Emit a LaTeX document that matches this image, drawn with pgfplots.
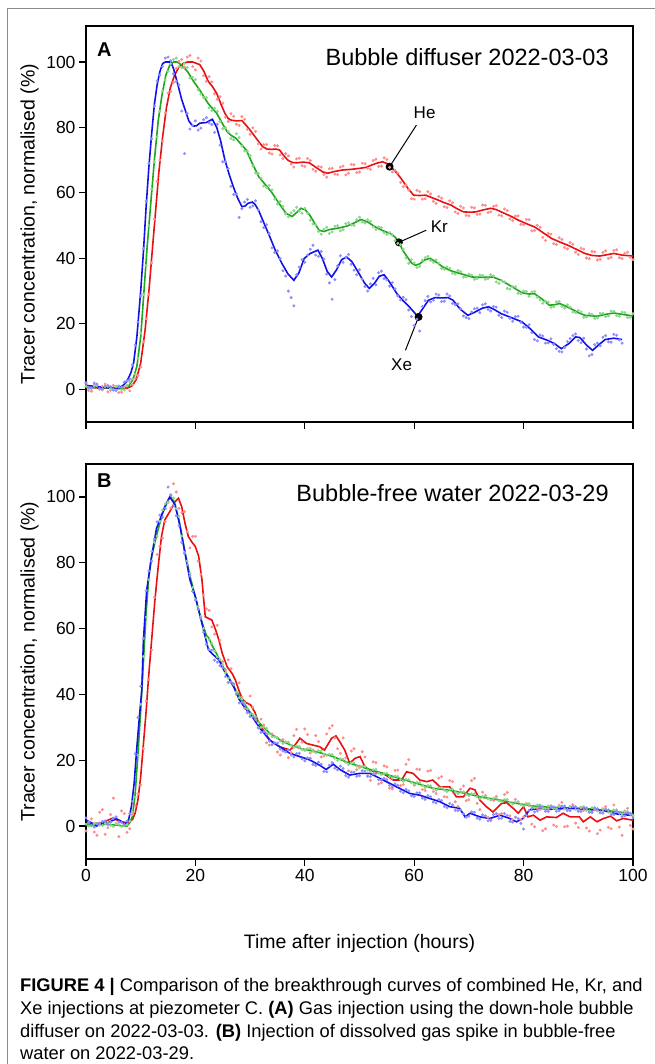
\documentclass[border=0pt]{standalone}
\usepackage{fontspec}
\setmainfont{Liberation Sans}
\usepackage{pgfplots}
\usepackage{pgfplotstable}
\pgfplotsset{compat=1.18}

\definecolor{cHe}{RGB}{232,16,16}
\definecolor{cKr}{RGB}{28,168,28}
\definecolor{cXe}{RGB}{18,18,232}
\definecolor{dHe}{RGB}{255,140,140}
\definecolor{dKr}{RGB}{140,214,140}
\definecolor{dXe}{RGB}{140,140,255}

% ---------- panel A: smoothed curves ----------
\pgfplotstableread{
x y
0 0.5
2 0.4
4 0.4
6 0.2
7.5 0.3
8.4 1
9.2 3
10 8
10.8 18
11.5 30
12.1 42
12.7 54
13.3 66
14 77
14.7 86
15.4 92
16.2 96
17 98.5
17.8 99.6
18.6 100
19.5 100
20.8 99.2
21.6 97
22.3 94.2
23.1 92.5
23.9 90.4
24.7 87
25.4 84.3
26 82.7
26.6 82.2
27.5 82
28.5 82.1
29.2 80.8
30 79.2
31.2 76.5
32.3 74.1
33.1 73.4
33.9 73.3
34.7 73.4
35.4 73.1
36.1 71.5
36.9 70
37.7 69.3
38.5 69.2
39.7 69.4
40.8 69.2
41.6 68.3
42.3 67.5
43.3 66.4
44.2 66
45.3 66.5
46.9 67
48.5 67.2
50 67.5
51.2 67.8
52.2 68.5
53.2 69.1
54.2 69.5
55.0 69
55.7 68
56.7 66.3
57.6 64.4
58.8 61.5
59.9 59.3
61 59.2
62.1 59.3
63.3 58.5
64.4 57.8
65.5 57
66.7 56.3
67.8 55.2
69 54.2
70.2 54.1
71.3 54.2
72.6 54.8
74 55.3
75 54.9
75.9 54.2
77.5 53
79 51.7
80.5 50.6
82 49.6
83.6 47.8
85.1 46.1
86.6 45
88.1 44
89.6 42.8
91.2 41.5
92.5 40.9
93.9 40.7
95.2 41.1
96.5 41.5
98 41
100 40.7
}\lineAhe

\pgfplotstableread{
x y
0 0.5
2 0.6
4 0.4
6 0.3
7 0.4
7.8 1
8.6 3
9.3 7
10 16
10.6 30
11.2 44
11.9 58
12.5 70
13.2 82
13.9 90
14.6 96
15.3 99
16 100
16.7 100
17.5 99
18.6 97
19.7 94
20.8 91.4
22.3 87.4
23.9 84.3
25 81
25.8 78.7
26.6 77.5
27.4 76.7
28.3 75
29.3 73.1
30.4 69
31.6 64.9
32.8 62.5
33.9 60.3
35.2 57
36.6 53.7
37.7 52.8
38.5 54
39.3 55.3
40.1 54.8
40.8 53.5
41.7 51
42.6 48.6
43.5 48.2
44.5 48.8
46 49.2
47.6 49.8
49 50.8
50.3 51.9
51.6 51
52.9 49.6
54.2 48.5
55.6 47.6
56.5 46.5
57.2 45
57.9 42.5
58.7 40.5
59.5 38.6
60.2 37.9
61 38.3
61.9 39.5
62.9 40
63.9 39
65.2 37.4
66.7 36.2
68.3 35.4
70.6 34.3
72.5 34.2
74.4 34.3
75.6 33.5
76.7 32.5
78.2 31
79.7 29.5
81 29.1
82 29.2
83.4 27.5
84.7 25.7
85.6 25.8
86.6 26.2
87.8 25.3
88.9 24.4
90 23.4
91.2 22.6
93.4 22.3
95 22.9
96.5 23.3
98 22.9
100 22.4
}\lineAkr

\pgfplotstableread{
x y
0 1.2
1 1.0
2 0.8
3 0.6
4 0.5
5 0.3
6 0.4
6.8 1.2
7.5 2.5
8.2 5
8.7 8
9.3 16
10 30
10.5 42
11 56
11.5 68
12 78
12.5 87
13 93
13.5 97
14 99.5
14.5 100
15.5 100
16 98
16.9 92.4
17.5 88.5
18.2 85
18.8 82
19.5 80.4
20.2 80.5
20.8 81.3
22 81.5
23.1 82.5
23.9 80
24.6 76
25.4 70
26.2 65.5
26.9 62
27.7 58.5
28.5 55.8
29.1 56
29.6 56.8
30.4 57.2
30.9 56.5
31.6 54.5
32.3 51.7
33.5 47
34.6 42.5
35.8 38.5
36.9 35.3
38.0 33.3
38.9 35.5
39.9 40
41 41.5
42.4 42.5
43.2 40
44.1 36
44.9 34.3
45.8 36.5
46.7 39.5
47.6 40.5
48.6 39
49.9 35.4
50.9 32.5
51.8 30.8
52.8 32.5
53.6 34.5
54.5 35
55.4 33
56.8 29.3
58 27
59.1 25.2
60 23.5
60.6 22.3
61.5 24.5
62.6 27.2
63.8 28
65.2 27.9
66.2 28
67.1 27.2
68.4 24.5
69.8 22.6
71 23.5
72.5 24.8
73.6 25.2
74.7 24.3
75.9 23.1
77.6 22
79.7 20.6
81.2 18.5
82.7 16
84.3 15
85.6 14
86.9 12.4
88.3 14
89.5 16
90.3 15.8
91.5 13.5
92.6 11.9
93.7 13.5
94.9 15.2
96.5 15.6
98 15.2
}\lineAxe

% ---------- panel A: raw points ----------
\pgfplotstableread{
x he kr xe
0 1.8 0.9 2.0
1 -0.6 0.2 0.4
2 1.5 1.1 1.6
3 0.9 -0.2 0.1
4 -0.8 0.9 1.1
5 1.2 0.0 -0.3
6 -1.0 0.7 1.0
7 0.8 -0.2 2.2
8 -0.5 2.3 3.1
9 3.4 4.6 13.5
10 6.8 17.2 28.5
11 21.5 37.8 57.5
12 38.6 61.2 76.5
13 63.5 77.1 94.2
14 75.8 91.2 98.6
15 90.5 97.2 101.5
16 93.8 100.8 96.4
17 100.2 98.6 93
18 98.4 99.5 72
19 102 95.1 79.5
20 97.6 94.6 82
21 100.3 90.2 79.8
22 94.1 89.1 83
23 93.9 85.2 80.9
24 88.6 84.9 81
25 87.4 79.6 69.5
26 81.8 78.8 67.4
27 83.4 76.2 59.5
28 80.6 76.9 52.5
29 82.5 72.8 57.2
30 77.9 71.4 55.6
31 78.8 66.1 57.6
32 73.4 64.5 51.2
33 74.8 61.6 50.3
34 71.9 60.9 43.2
35 74.4 56.6 42.3
36 70.5 55.9 36.2
37 71.3 52.7 30
38 67.9 54.6 25.5
39 70.6 54.4 37.3
40 68.1 55.3 38.8
41 69.9 51.7 42.8
42 66.6 50.3 41
43 67.9 47.4 42.1
44 64.8 49.5 35.2
45 67.5 48.1 27.5
46 65.6 50 37.7
47 68.2 48.8 38.8
48 66 50.9 41.2
49 68.6 50.1 36.4
50 66.4 52.6 36.5
51 68.9 50.8 31.4
52 67.2 51.3 32.2
53 70.3 48.8 31.9
54 68.2 49.4 36.1
55 70.2 47.3 33.4
56 66.4 47.2 32.6
57 66.1 44.6 28.5
58 61.9 42.8 28.1
59 60.9 38.5 24.2
60 58.1 38.6 19.5
61 60.4 37.6 17.8
62 58.2 40.2 27.1
63 59.7 39.3 26.7
64 56.8 39.5 29.1
65 58.4 36.9 26.8
66 55.5 37.4 29.1
67 57 35.4 26.2
68 53.7 36.3 26.1
69 55.4 34.3 22.4
70 53 35.2 21.6
71 55.4 33.6 24.6
72 53.5 34.9 23.4
73 56.2 33.6 26.1
74 54.2 35 23.9
75 56.1 32.8 25.1
76 53 33.2 21.9
77 54.6 30.8 23.5
78 51.5 31.4 20.8
79 53 29.3 22.3
80 50.3 30 19
81 51.8 28.4 19.7
82 48.5 29.9 15.2
83 49.5 27.3 16.6
84 45.5 26.9 14.1
85 47.4 25 15.4
86 44.2 26.7 12.4
87 45.8 25.3 11.4
88 42.9 25.8 14.6
89 44.3 23.6 16.4
90 41.2 24.1 14.9
91 42.8 22 15.6
92 39.9 23.1 10.2
93 42 21.6 13.6
94 39.7 23.2 13.3
95 42.3 22.2 16.4
96 40.3 23.9 14.4
97 42.6 22.5 16.5
98 39.9 23.6 14.1
99 41.9 21.9 nan
100 39.6 23.1 nan
}\dotsA

\pgfplotstableread{
x he kr xe
0.5 -0.4 0.1 0.5
1.5 1.3 1.0 1.9
2.5 0.0 0.1 0.2
3.5 1.6 0.8 0.9
4.5 -0.3 0.2 0.8
5.5 0.7 0.9 -0.4
6.5 -0.9 -0.1 0.6
7.5 1.1 1.2 2.6
8.5 1.4 3.2 7.5
9.5 4.2 9.5 20.5
10.5 14.5 29 43
11.5 29 50 69
12.5 52 69.5 86.5
13.5 70 85 96
14.5 84.5 94.5 101.2
15.5 91 99.5 100.4
16.5 98 101.2 94
17.5 100.8 98.2 85
18.5 101.5 98.3 84.3
19.5 98.6 95.3 80.6
20.5 101.2 91.5 79.2
21.5 95.8 89.1 82.4
22.5 95.5 86 81.4
23.5 90.3 85.9 78.5
24.5 89.4 81.8 74.6
25.5 83.1 79.9 69.6
26.5 84.2 76.6 62
27.5 81 78.1 59.7
28.5 83.3 74.3 55.2
29.5 79.4 72.8 58
30.5 79.9 68.2 56
31.5 75 65.9 54.8
32.5 74.7 62.1 49.4
33.5 72.2 62.3 47.6
34.5 74.5 58.1 41.8
35.5 71.6 57.4 39.9
36.5 72 53.6 34.6
37.5 68.8 53.9 28
38.5 70.4 55.6 35
39.5 68.3 53.8 39.6
40.5 70.5 53.8 41
41.5 67.2 50.5 44
42.5 68.1 48.2 40.6
43.5 65.6 48.9 39.8
44.5 67.4 47.6 32.5
45.5 65.7 49.8 33.5
46.5 67.9 48.4 40.8
47.5 65.5 50.6 40.3
48.5 68.7 50.2 38.2
49.5 66.2 51.8 35
50.5 69.1 51.1 33.6
51.5 67.5 51.8 30
52.5 69.9 49.6 33.9
53.5 68.1 49.6 35.6
54.5 70.7 47.8 33.8
55.5 67.8 47.9 31.5
56.5 66.9 45.4 30.7
57.5 63.2 44.2 27.3
58.5 62.4 40.1 27.4
59.5 58.2 39.6 22.2
60.5 60.8 37.2 21.4
61.5 58.1 39.4 25.3
62.5 60.4 40.6 28.4
63.5 57.4 38.8 27.2
64.5 58.9 38.5 28.8
65.5 55.8 36.7 26.9
66.5 57.6 36.9 28.5
67.5 54.2 35.2 25.8
68.5 55.9 35.9 24.6
69.5 53.1 34.3 21.9
70.5 55.6 34.9 23.6
71.5 53.4 33.8 24.8
72.5 56.3 34.8 25.8
73.5 54 33.8 24.4
74.5 55.9 34.6 25.3
75.5 53.2 32.4 22.6
76.5 55.1 32.8 23.9
77.5 52 30.6 21.7
78.5 52.9 31.3 22.2
79.5 50.4 29.2 20.4
80.5 51.9 29.9 18.9
81.5 48.4 29.7 17.3
82.5 50.1 28.1 14.8
83.5 46.4 26.3 16.3
84.5 47.6 26.6 14.2
85.5 44.5 25.2 13.7
86.5 46.3 26.8 11.6
87.5 43.3 24.8 12.8
88.5 44.8 25.1 15.5
89.5 41.9 23.4 16.9
90.5 43.1 23.6 14.2
91.5 40.1 22.1 12.3
92.5 42.1 22.9 10.6
93.5 39.5 21.8 14.1
94.5 41.8 23.2 15.9
95.5 40 22.4 14.5
96.5 42.4 23.8 16.8
97.5 40.2 22.3 15.1
98.5 41.5 23.4 nan
99.5 40.3 22 nan
}\dotsAh

% ---------- panel B: smoothed curves ----------
\pgfplotstableread{
x y
0 0.5
1.5 0.8
3 1
4 1.8
5 2.5
6 1.5
7.5 1
8.5 2
9 4
9.5 8
10 15
10.5 25
11 35
11.4 44.4
12 56.5
12.6 68.7
13.2 78.8
13.8 88
14.4 93
15.3 95.5
16.3 98.6
16.9 99.6
17.5 97
18.1 92
18.7 88
19.3 86.4
20 84.9
20.6 81.9
21.2 74.8
21.8 63.6
22.4 63.1
23 62.6
23.7 59.6
24.3 56.5
24.9 52.5
25.8 48.4
26.7 46.4
27.3 44.4
28 41
28.6 38.5
29.3 37.5
30.1 36.8
30.9 34.5
31.5 31.5
32.4 29.2
33.6 26.1
35.4 24.1
37.3 23.1
38.2 24.6
39.1 26.7
40.3 25.1
41.5 24.6
42.7 24.1
43.6 23.1
44.9 26.7
45.7 27.4
46.4 25.6
47.3 23.1
48.2 19.1
49.2 20.6
50.1 21.1
51 18
51.9 16.9
54.3 16
56.2 14
57.7 14
58.6 16.5
59.8 16
61 14
62.3 13.5
63.4 14
64.7 11.9
66.5 11.9
67.7 8.9
69 8.9
70.2 11.5
71.1 11
72 7.9
73.2 5.9
74.4 4.3
76 6.9
76.9 7.1
78.1 5.4
79 3.9
80 5.9
80.8 2.8
81.8 3.3
83 1.8
84.2 2.8
86 2.6
87.2 3.9
88.5 2.8
90.2 2.8
90.9 1.3
92.2 2.8
93.4 1.3
94.6 2.3
95.9 3
97 1.6
98.2 2.3
100 1.8
}\lineBhe

\pgfplotstableread{
x y
0 0.3
2 0.5
4 0.5
6 0.2
7.5 0
8 1
8.5 3
9 10
9.5 22
10 35
10.5 50
11 65
11.5 76
12 82
13 89
14 95
15 99
15.5 100
16 99
17 93
18 84
19 76
20 69.5
21 63
22 58
22.5 57
23 55
24 52
25 48.5
26 45.5
27 42.5
28 39.5
29 37
30 34.6
31.8 31.2
33.6 28.2
36 25.6
39.1 23.6
42.1 22.6
45.2 21.1
48.2 19.1
51.3 17.5
54.3 16
57.3 14.5
60.4 13
63.4 11.5
66.5 10.9
69.5 9.9
72.6 8.7
75.7 7.9
78.7 6.9
81.8 6.1
84.8 5.7
90.9 5.4
97 4.4
100 3.7
}\lineBkr

\pgfplotstableread{
x y
0 1.8
1 1.0
1.9 0
3 0.8
4 1.0
5 1.8
5.6 2.2
6.4 1.5
7.2 0.5
7.8 2
8.3 5.9
8.8 13
9.3 24
9.8 34
10.2 41.3
10.5 56.5
11.1 71.7
12 81.9
12.9 90.5
13.5 93
14.4 97
15.3 100
16.3 97.6
17.2 91
18.1 82.9
19 74.8
20 69.7
20.9 63.6
21.8 57.5
22.4 53.5
23.3 52
24.3 50.5
25.2 47.4
26.1 44.9
27 42.3
28 38.5
29 36
30 34.2
31.8 29.7
33.6 26.1
35.4 24.1
37.3 22.1
39.1 21.1
40.9 20.1
42.7 18.5
43.9 17.2
45.2 18.8
46.4 17.2
48.2 15.5
50 16
51.9 16
53.7 14.5
55.5 13
57.3 11.5
59.2 9.9
61 9.4
62.8 8.4
64.7 7.4
66.5 5.9
68.3 5.4
69.3 2.8
70.2 3.9
72 2.8
73.8 2.3
75.7 3.3
77.5 2.3
78.7 1.3
79.9 2.3
81.1 4.9
83 5.4
84.8 5.1
88.5 5.4
90.9 5.1
94.6 4.7
97 3.7
100 3.2
}\lineBxe

% ---------- panel B: raw points ----------
\pgfplotstableread{
x he kr xe
0 -1.5 0.6 2.5
1 2.2 0.1 0.2
2 -2.8 0.8 0.6
3 5 0.2 1.4
4 -0.5 0.9 0.5
5 8.5 -0.1 2.4
6 -3.2 0.5 1.3
7 3.8 0.3 0.5
8 -0.8 1.5 3.8
9 6.2 8.8 22
10 12.5 37 42.5
11 38 63.5 71.5
12 53.5 83.5 80.5
13 82.5 88.1 92.4
14 87.5 96 93.8
15 98.5 98.3 103
16 104 99.6 97.3
17 96.5 94 91.2
18 95.5 83.1 82.8
19 84.5 76.8 76
20 88 68.8 68.6
21 76.5 63.7 63.1
22 66 57.3 55.2
23 60.5 55.6 53.4
24 61 51.4 49.8
25 50 49.1 48.1
26 50.5 44.9 43.6
27 43 43.1 43.2
28 43.5 39 37.4
29 35.8 37.5 36.9
30 39.5 34.1 33.3
31 32.4 33.2 32.4
32 32.5 30 28.5
33 25.3 29.7 28
34 28 27.1 24.7
35 22.5 26.9 25.2
36 26.3 25.1 22.8
37 20.8 25.5 23.1
38 27.5 23.9 21
39 23.8 24.2 22.1
40 29.5 23 19.8
41 22.2 23.6 20.6
42 27.5 22.3 18.4
43 21 22.9 18.8
44 28 21.5 16.5
45 30.5 21.7 19.3
46 23.5 20 17.1
47 26.8 20.3 17.5
48 16.8 18.7 14.9
49 23.5 19.2 16.4
50 18.2 17.7 15.3
51 21 18.1 16.7
52 13.9 16.5 15
53 19.3 17.2 15.9
54 13.2 15.6 14
55 18 16.1 14.1
56 11.3 14.6 11.9
57 17 15.1 12.4
58 12.6 13.6 10.1
59 20.2 14.1 10.7
60 12.4 12.7 9
61 17.2 13.2 10.1
62 10.8 11.7 8.1
63 16.9 12.2 8.9
64 9.9 10.9 7
65 15 11.7 7.8
66 8.8 10.5 5.6
67 13.5 11.2 6.4
68 6 9.9 4.7
69 12.2 10.4 3.8
70 8 9.2 3
71 14.5 9.8 4.2
72 5 8.4 2.1
73 9.3 9.1 3.1
74 1.6 7.9 1.9
75 9 8.5 3.8
76 3.8 7.4 2.4
77 10.2 8.1 3.2
78 2 6.7 1.2
79 7.4 7.4 2.3
80 2.8 6.1 -0.9
81 6.2 6.8 4.8
82 -0.2 5.6 4.3
83 5 6.4 6.1
84 -0.8 5.3 4.5
85 6.1 6.2 5.8
86 -0.1 5.2 4.5
87 7.2 6.1 6
88 0 5 4.7
89 6.5 6 6
90 -0.4 4.9 4.5
91 4.8 5.8 5.7
92 -1.5 4.6 4.2
93 4.9 5.5 5.5
94 -1.2 4.3 4
95 5.9 5.1 5.1
96 -0.8 4 3.4
97 4.9 4.9 4.4
98 -2.8 3.7 2.8
99 5.4 4.4 4
100 -0.9 3.2 2.5
}\dotsB

\pgfplotstableread{
x he kr xe
0.5 1.2 0.0 1.1
1.5 -1.8 0.7 -0.3
2.5 4.2 0.3 0.9
3.5 -2.5 0.8 1.6
4.5 3.5 0.2 1.2
5.5 0.8 0.6 2.8
6.5 4.6 -0.1 1.1
7.5 -1.9 0.4 1.5
8.5 3.5 4.2 7.5
9.5 9.8 21.5 33
10.5 23.5 51.5 57
11.5 44.5 74.8 77.5
12.5 69.5 86.2 87.2
13.5 85 92.6 94.5
14.5 92.5 97.9 96.5
15.5 96.6 100.7 100.5
16.5 101.5 96.5 94.3
17.5 95.3 88.1 86.2
18.5 89.5 80.5 79.4
19.5 88 72.5 71.3
20.5 80.5 66.7 65.8
21.5 70.2 60.1 58.9
22.5 65.5 56.6 53.6
23.5 58.3 53.1 50.4
24.5 56.5 50.6 48.7
25.5 47.5 46.6 45.4
26.5 47.8 43.8 43.7
27.5 40.5 40.8 40
28.5 39.2 38.6 37.6
29.5 34.4 35.6 34.6
30.5 36.1 33.9 33.2
31.5 29.8 31.3 29.9
32.5 30.7 30.1 28.6
33.5 24.6 28 25.8
34.5 27.1 27.2 25.3
35.5 21.6 25.8 23.4
36.5 25.6 25.5 22.5
37.5 22.3 24.5 21.6
38.5 29.4 24.3 22
39.5 25.5 23.3 20.4
40.5 27.8 23.5 20.7
41.5 23.1 22.7 18.7
42.5 25.7 22.9 19.4
43.5 21.3 21.9 16.6
44.5 29.7 21.8 18.5
45.5 26.8 20.6 17.6
46.5 22.1 20.4 18.2
47.5 20.7 19.3 15.3
48.5 22.8 19.1 16.4
49.5 17.1 18.2 15.1
50.5 22.6 18.1 16.8
51.5 15.4 17 15.1
52.5 19.5 17.1 15.9
53.5 12.8 16.1 14.1
54.5 18.3 16 14.5
55.5 11.5 15.1 12.4
56.5 16.9 15.2 12.8
57.5 12.3 14.1 10.6
58.5 18.8 14.2 11.1
59.5 13.2 13.2 9.2
60.5 17.3 13.3 10.1
61.5 11.1 12.3 8.5
62.5 16.7 12.3 9.3
63.5 10.5 11.4 7.3
64.5 14.6 11.6 8.1
65.5 8.9 10.9 6
66.5 13.8 11.1 6.9
67.5 7.4 10.3 4.8
68.5 11.2 10.4 4.9
69.5 7.7 9.6 2.7
70.5 13.8 9.8 4.3
71.5 6.9 8.9 2.4
72.5 10.3 9 3.4
73.5 2.6 8.3 1.6
74.5 7.8 8.5 3.5
75.5 3.5 7.7 2.3
76.5 9.6 8.1 3.8
77.5 3.1 7.2 1.4
78.5 8.1 7.3 2.7
79.5 1.9 6.5 0.8
80.5 6.9 6.7 3.3
81.5 0.6 5.9 5.4
82.5 5.5 6.4 4.6
83.5 -1.4 5.5 5.9
84.5 5.2 6.1 4.5
85.5 0.3 5.3 5.8
86.5 6.3 6 4.6
87.5 -0.2 5.2 6.1
88.5 5.8 6 4.7
89.5 0.9 5 5.9
90.5 5.5 5.8 4.4
91.5 -0.6 4.8 5.5
92.5 4.1 5.6 4.2
93.5 -2.3 4.6 5.3
94.5 4.5 5.3 3.9
95.5 -0.4 4.2 4.9
96.5 6.4 4.9 3.5
97.5 -0.3 3.9 4.2
98.5 4.3 4.6 3.1
99.5 0.2 3.6 3.9
}\dotsBh

\pgfplotsset{
  panel/.style={
    scale only axis, width=547bp,
    xmin=0, xmax=100, ymin=-10,
    enlargelimits=false,
    axis line style={line width=1.5bp},
    tick style={line width=1.2bp, black},
    major tick length=7bp,
    tick align=outside,
    xtick pos=bottom, ytick pos=left,
    xtick={0,20,...,100}, ytick={0,20,...,100},
    /pgf/number format/assume math mode=true,
    tick label style={font=\fontsize{17.5bp}{20bp}\selectfont},
    ylabel={Tracer concentration, normalised (\%)},
    ylabel style={at={(axis description cs:-0.1033,0.5)}, anchor=center,
      font=\fontsize{19.5bp}{22bp}\selectfont},
  },
  raw/.style={only marks, mark=*, mark size=1.3bp, color=#1},
  fit/.style={no marks, line width=1.6bp, color=#1},
}

\begin{document}
\begin{tikzpicture}
\useasboundingbox (0bp,0bp) rectangle (655bp,1064bp);
% figure frame
\draw[black!45, line width=1bp] (7bp,0bp) -- (7bp,1055bp) -- (655bp,1055bp);

% ---------------- panel A ----------------
\begin{axis}[panel, at={(86bp,642bp)}, anchor=south west, height=396bp,
  ymax=111, xticklabels={}]
\addplot[raw=dHe] table[x=x, y=he] {\dotsA};
\addplot[raw=dHe] table[x=x, y=he] {\dotsAh};
\addplot[raw=dKr] table[x=x, y=kr] {\dotsA};
\addplot[raw=dKr] table[x=x, y=kr] {\dotsAh};
\addplot[raw=dXe] table[x=x, y=xe] {\dotsA};
\addplot[raw=dXe] table[x=x, y=xe] {\dotsAh};
\addplot[fit=cHe] table {\lineAhe};
\addplot[fit=cKr] table {\lineAkr};
\addplot[fit=cXe] table {\lineAxe};
\node[anchor=north west, font=\fontsize{20bp}{22bp}\selectfont\bfseries]
  at (axis description cs:0.014,0.966) {A};
\node[anchor=east, font=\fontsize{23.5bp}{26bp}\selectfont]
  at (axis description cs:0.962,0.922) {Bubble diffuser 2022-03-03};
% series labels
\draw[line width=1bp] (axis cs:55.5,68) -- (axis cs:60.4,80.7);
\fill (axis cs:55.5,68) circle (4bp);
\node[font=\fontsize{17bp}{19bp}\selectfont] at (axis cs:61.9,84.6) {He};
\draw[line width=1bp] (axis cs:57.2,44.9) -- (axis cs:62.2,48.6);
\fill (axis cs:57.2,44.9) circle (4bp);
\node[font=\fontsize{17bp}{19bp}\selectfont] at (axis cs:64.6,49.6) {Kr};
\draw[line width=1bp] (axis cs:60.8,22.1) -- (axis cs:58.4,11.9);
\fill (axis cs:60.8,22.1) circle (4bp);
\node[font=\fontsize{17bp}{19bp}\selectfont] at (axis cs:57.7,7.6) {Xe};
\end{axis}

% ---------------- panel B ----------------
\begin{axis}[panel, at={(86bp,205bp)}, anchor=south west, height=395bp,
  ymax=110,
  xlabel={Time after injection (hours)},
  xlabel style={at={(axis description cs:0.5,-0.2127)}, anchor=center,
    font=\fontsize{19.5bp}{22bp}\selectfont}]
\addplot[raw=dHe] table[x=x, y=he] {\dotsB};
\addplot[raw=dHe] table[x=x, y=he] {\dotsBh};
\addplot[raw=dKr] table[x=x, y=kr] {\dotsB};
\addplot[raw=dKr] table[x=x, y=kr] {\dotsBh};
\addplot[raw=dXe] table[x=x, y=xe] {\dotsB};
\addplot[raw=dXe] table[x=x, y=xe] {\dotsBh};
\addplot[fit=cHe] table {\lineBhe};
\addplot[fit=cKr] table {\lineBkr};
\addplot[fit=cXe] table {\lineBxe};
\node[anchor=north west, font=\fontsize{20bp}{22bp}\selectfont\bfseries]
  at (axis description cs:0.014,0.984) {B};
\node[anchor=east, font=\fontsize{23.5bp}{26bp}\selectfont]
  at (axis description cs:0.962,0.927) {Bubble-free water 2022-03-29};
\end{axis}

% ---------------- caption ----------------
\begin{scope}[every node/.style={anchor=base west, inner sep=0pt,
    font=\fontsize{18.3bp}{22bp}\selectfont}]
\node at (20bp,72bp) {\textbf{FIGURE 4 |} Comparison of the breakthrough curves of combined He, Kr, and};
\node at (20bp,49.5bp) {Xe injections at piezometer C. \textbf{(A)} Gas injection using the down-hole bubble};
\node at (20bp,27bp) {diffuser on 2022-03-03. \textbf{(B)} Injection of dissolved gas spike in bubble-free};
\node at (20bp,4.5bp) {water on 2022-03-29.};
\end{scope}
\end{tikzpicture}
\end{document}
